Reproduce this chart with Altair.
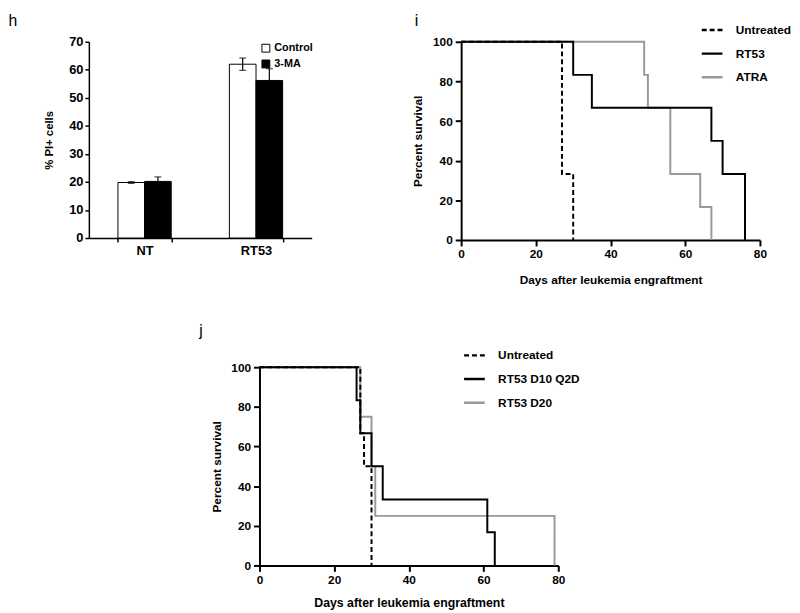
import altair as alt
import pandas as pd

F = "Liberation Sans"

# ---------------- Panel h data ----------------
groups = ["NT", "NT", "RT53", "RT53"]
treatments = ["Control", "3-MA", "Control", "3-MA"]
pi_mean = [19.8, 20.2, 62.0, 56.2]
pi_err = [0.3, 1.6, 2.2, 4.2]
group_order = ["NT", "RT53"]
treat_order = ["Control", "3-MA"]

# ---------------- Panel i data ----------------
i_names = ["Untreated", "RT53", "ATRA"]
i_series = ["Untreated"] * 3 + ["RT53"] * 6 + ["ATRA"] * 6
i_days = [0, 27, 30, 0, 30, 35, 67, 70, 76, 0, 49, 50, 56, 64, 67]
i_surv = [100, 33.3, 0, 100, 83.3, 66.7, 50, 33.3, 0, 100, 83.3, 66.7, 33.3, 16.7, 0]

# ---------------- Panel j data ----------------
j_names = ["Untreated", "RT53 D10 Q2D", "RT53 D20"]
j_series = ["Untreated"] * 4 + ["RT53 D10 Q2D"] * 7 + ["RT53 D20"] * 5
j_days = [0, 27, 28, 30, 0, 26, 27, 30, 33, 61, 63, 0, 27, 30, 31, 79]
j_surv = [100, 66.7, 50, 0, 100, 83.3, 66.7, 50, 33.3, 16.7, 0, 100, 75, 50, 25, 0]

line_colors = ["black", "black", "#999999"]
line_dashes = [[5, 3], [1, 0], [1, 0]]

lab = dict(labelFont=F, labelFontSize=12, labelFontWeight="bold", labelColor="black",
           titleFont=F, titleFontSize=12, titleFontWeight="bold", titleColor="black",
           domainColor="black", tickColor="black", grid=False, labelFlush=False)


def letter(t, dx, dy):
    return alt.Chart(pd.DataFrame({"t": [t]})).mark_text(
        font=F, fontSize=16, align="left", baseline="top", color="black"
    ).encode(text="t:N", x=alt.value(dx), y=alt.value(dy))


# ---------------- Panel h ----------------
dfh = pd.DataFrame({"group": groups, "treat": treatments, "mean": pi_mean, "err": pi_err})
dfh["lo"] = dfh["mean"] - dfh["err"]
dfh["hi"] = dfh["mean"] + dfh["err"]

lab_h = {**lab, "labelFontSize": 13, "titleFontSize": 11.5}
xh = alt.X("group:N", sort=group_order,
           scale=alt.Scale(domain=group_order, paddingInner=0.522, paddingOuter=0.261),
           axis=alt.Axis(title=None, labelAngle=0, tickBand="extent", tickSize=4,
                         labelPadding=3, domainWidth=1.5, tickWidth=1.5, **lab_h))
xoff = alt.XOffset("treat:N", sort=treat_order,
                   scale=alt.Scale(domain=treat_order, paddingInner=0, paddingOuter=0))
yax_h = alt.Axis(values=list(range(0, 71, 10)), tickSize=4, labelPadding=2,
                 titlePadding=14, domainWidth=1.5, tickWidth=1.5, **lab_h)
yscale_h = alt.Scale(domain=[0, 70], nice=False)

bars = alt.Chart(dfh).mark_bar(stroke="black", strokeWidth=1).encode(
    x=xh, xOffset=xoff,
    y=alt.Y("mean:Q", scale=yscale_h, axis=yax_h, title="% PI+ cells"),
    fill=alt.Fill("treat:N", scale=alt.Scale(domain=treat_order, range=["white", "black"]),
                  legend=alt.Legend(title=None, orient="none", legendX=174, legendY=1,
                                    symbolType="square", symbolSize=64,
                                    symbolStrokeColor="black", symbolStrokeWidth=1,
                                    labelFont=F, labelFontSize=11, labelFontWeight="bold",
                                    labelColor="black", labelOffset=3, rowPadding=3)),
)
err_rule = alt.Chart(dfh).mark_rule(color="black", strokeWidth=1.2).encode(
    x=xh, xOffset=xoff,
    y=alt.Y("lo:Q", scale=yscale_h, axis=yax_h, title="% PI+ cells"), y2="hi:Q",
)
cap_hi = alt.Chart(dfh).mark_tick(color="black", size=7, thickness=1.2).encode(
    x=xh, xOffset=xoff,
    y=alt.Y("hi:Q", scale=yscale_h, axis=yax_h, title="% PI+ cells"),
)
cap_lo = alt.Chart(dfh).mark_tick(color="black", size=7, thickness=1.2).encode(
    x=xh, xOffset=xoff,
    y=alt.Y("lo:Q", scale=yscale_h, axis=yax_h, title="% PI+ cells"),
)
panel_h = alt.layer(bars, err_rule, cap_hi, cap_lo, letter("h", -81.5, -29)).properties(
    width=226, height=199)


# ---------------- survival panels ----------------
def survival(series, days, surv, names, order, legx, title_pad_x, title_pad_y, xtitle_size):
    df = pd.DataFrame({"series": series, "day": days, "surv": surv})
    leg = alt.Legend(title=None, orient="none", legendX=legx, legendY=-24,
                     symbolType="stroke", symbolSize=441, symbolStrokeWidth=2.5,
                     labelFont=F, labelFontSize=12, labelFontWeight="bold",
                     labelColor="black", labelOffset=12, rowPadding=6)
    x = alt.X("day:Q", scale=alt.Scale(domain=[0, 80], nice=False),
              axis=alt.Axis(values=[0, 20, 40, 60, 80], tickSize=6, tickWidth=2,
                            domainWidth=2, labelPadding=3, titlePadding=title_pad_x,
                            **{**lab, "titleFontSize": xtitle_size}),
              title="Days after leukemia engraftment")
    y = alt.Y("surv:Q", scale=alt.Scale(domain=[0, 100], nice=False),
              axis=alt.Axis(values=[0, 20, 40, 60, 80, 100], tickSize=6, tickWidth=2,
                            domainWidth=2, labelPadding=3, titlePadding=title_pad_y, **lab),
              title="Percent survival")
    color = alt.Color("series:N", scale=alt.Scale(domain=names, range=line_colors), legend=leg)
    dash = alt.StrokeDash("series:N", scale=alt.Scale(domain=names, range=line_dashes), legend=leg)
    layers = []
    for s in order:
        layers.append(
            alt.Chart(df).transform_filter(alt.datum.series == s)
            .mark_line(interpolate="step-after", strokeWidth=2)
            .encode(x=x, y=y, color=color, strokeDash=dash)
        )
    return layers


# legend x positions are relative to the row origin (left edge of panel h's plot)
i_layers = survival(i_series, i_days, i_surv, i_names, ["ATRA", "Untreated", "RT53"],
                    620, 15, 8, 12)
panel_i = alt.layer(*i_layers, letter("i", -47, -29)).properties(width=303, height=201)

j_layers = survival(j_series, j_days, j_surv, j_names, ["RT53 D20", "Untreated", "RT53 D10 Q2D"],
                    379, 12, 7, 12.5)
panel_j = alt.layer(*j_layers, letter("j", -61, -45)).properties(width=303, height=201)

spacer = alt.Chart(pd.DataFrame({"v": [0]})).mark_rect(opacity=0).encode(
    x=alt.value(0), x2=alt.value(10), y=alt.value(0), y2=alt.value(10)
).properties(width=25, height=10)

row1 = alt.hconcat(panel_h, panel_i, spacing=151.5, bounds="flush")
row2 = alt.hconcat(spacer, panel_j, spacing=148, bounds="flush")

chart = alt.vconcat(row1, row2, spacing=36).properties(padding=0).configure_view(
    stroke="transparent"
).resolve_scale(color="independent", strokeDash="independent")

chart.save("out.html", embed_options={"renderer": "svg", "actions": False})
